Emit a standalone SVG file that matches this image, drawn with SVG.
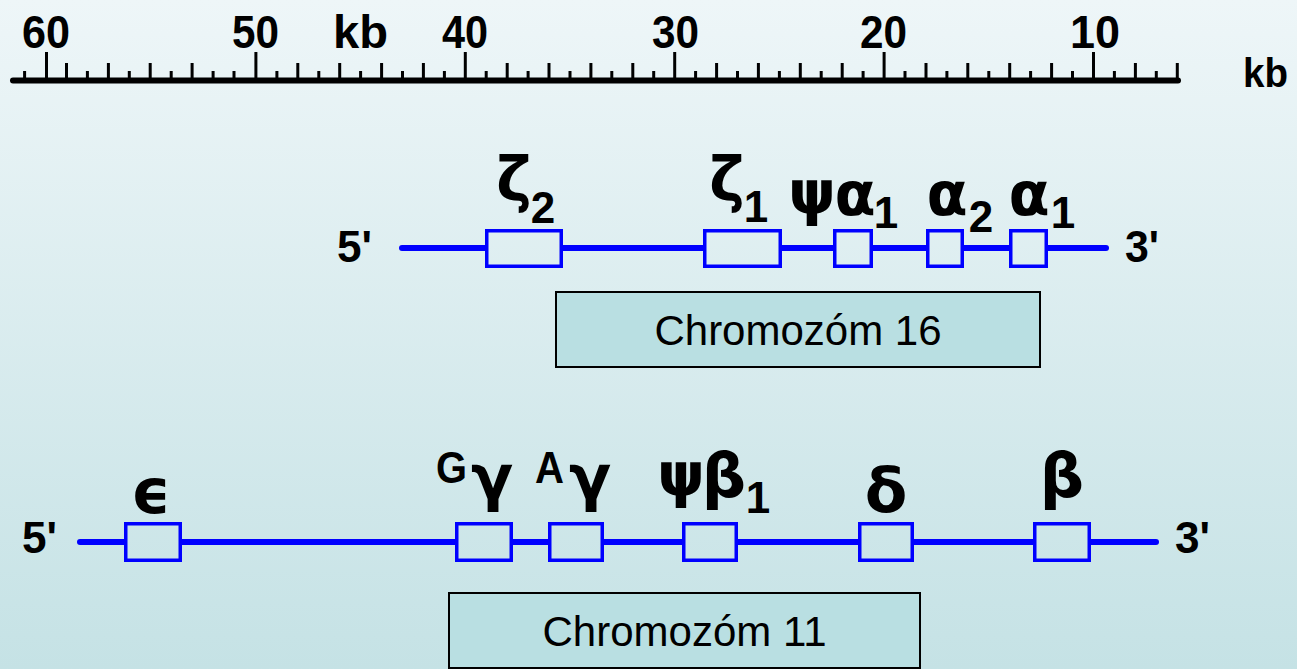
<svg xmlns="http://www.w3.org/2000/svg" width="1297" height="669" viewBox="0 0 1297 669">
<defs>
<linearGradient id="bg" gradientUnits="userSpaceOnUse" x1="0" y1="0" x2="0" y2="669">
<stop offset="0" stop-color="#eef6f8"/>
<stop offset="1" stop-color="#c5e2e5"/>
</linearGradient>
</defs>
<style>
.num{font-family:"Liberation Sans",Arial,sans-serif;font-weight:bold;font-size:46px;fill:#000}
.end{font-family:"Liberation Sans",Arial,sans-serif;font-weight:bold;font-size:44px;fill:#000}
.gr{font-family:"DejaVu Sans",sans-serif;font-weight:bold;font-size:60px;fill:#000;text-anchor:middle}
.gr2{font-family:"DejaVu Sans",sans-serif;font-weight:bold;font-size:62px;fill:#000;text-anchor:middle}
.sub{font-family:"Liberation Sans",Arial,sans-serif;font-weight:bold;font-size:44px;fill:#000;text-anchor:middle}
.sup{font-family:"Liberation Sans",Arial,sans-serif;font-weight:bold;font-size:44px;fill:#000;text-anchor:start}
.gene{fill:url(#bg);stroke:#0000ff;stroke-width:3.5}
.chr{stroke:#0000ff;stroke-width:6;stroke-linecap:round;fill:none}
.lbl{fill:#b9dfe2;stroke:#000;stroke-width:2}
.lt{font-family:"Liberation Sans",Arial,sans-serif;font-size:42px;fill:#000;text-anchor:middle}
.tk{fill:#000}
</style>
<rect x="0" y="0" width="1297" height="669" fill="url(#bg)"/>

<g id="scale">
<rect x="10" y="77.5" width="1171" height="6" rx="3" class="tk"/>
<g class="tk">
<rect x="45" y="52" width="3" height="26"/>
<rect x="254.4" y="52" width="3" height="26"/>
<rect x="463.8" y="52" width="3" height="26"/>
<rect x="673.2" y="52" width="3" height="26"/>
<rect x="882.6" y="52" width="3" height="26"/>
<rect x="1092" y="52" width="3" height="26"/>
</g>
<path id="minor" d="M24.6 78v-7M66.5 78v-15M87.4 78v-7M108.4 78v-15M129.3 78v-7M150.2 78v-15M171.2 78v-7M192.1 78v-15M213.1 78v-7M234 78v-7M276.9 78v-7M297.8 78v-15M318.8 78v-7M339.7 78v-15M360.6 78v-7M381.6 78v-15M402.5 78v-7M423.4 78v-15M444.4 78v-7M486.2 78v-7M507.2 78v-15M528.1 78v-7M549 78v-15M570 78v-7M590.9 78v-15M611.8 78v-7M632.8 78v-15M653.7 78v-7M695.6 78v-7M716.6 78v-15M737.5 78v-7M758.4 78v-15M779.4 78v-7M800.3 78v-15M821.2 78v-7M842.2 78v-15M863.1 78v-7M905 78v-7M926 78v-15M946.9 78v-7M967.8 78v-15M988.8 78v-7M1009.7 78v-15M1030.6 78v-7M1051.6 78v-15M1072.5 78v-7M1114.4 78v-7M1135.4 78v-15M1156.3 78v-7M1177.3 78v-15" stroke="#000" stroke-width="3" fill="none"/>
<text class="num" x="22" y="48" textLength="48" lengthAdjust="spacingAndGlyphs">60</text>
<text class="num" x="232" y="48" textLength="47" lengthAdjust="spacingAndGlyphs">50</text>
<text class="num" x="333" y="48" textLength="55" lengthAdjust="spacingAndGlyphs">kb</text>
<text class="num" x="442" y="48" textLength="46" lengthAdjust="spacingAndGlyphs">40</text>
<text class="num" x="652" y="48" textLength="47" lengthAdjust="spacingAndGlyphs">30</text>
<text class="num" x="860" y="48" textLength="47" lengthAdjust="spacingAndGlyphs">20</text>
<text class="num" x="1070" y="48" textLength="50" lengthAdjust="spacingAndGlyphs">10</text>
<text x="1243" y="87" font-family="Liberation Sans, Arial, sans-serif" font-weight="bold" font-size="41" textLength="45" lengthAdjust="spacingAndGlyphs">kb</text>
</g>

<g id="connectors">
<line class="chr" x1="402" y1="248" x2="1106" y2="248"/>
<line class="chr" x1="80" y1="542" x2="1156" y2="542"/>
</g>

<g id="chr16">
<text class="end" x="337" y="262" textLength="35" lengthAdjust="spacingAndGlyphs">5'</text>
<text class="end" x="1125" y="262" textLength="34" lengthAdjust="spacingAndGlyphs">3'</text>
<g id="zeta2"><rect class="gene" x="486.75" y="230.75" width="74.5" height="35.5"/><text class="gr" x="514" y="200">ζ</text><text class="sub" x="543" y="223">2</text></g>
<g id="zeta1"><rect class="gene" x="704.75" y="230.75" width="75.5" height="35.5"/><text class="gr" x="727" y="200">ζ</text><text class="sub" x="756" y="222">1</text></g>
<g id="psialpha1"><rect class="gene" x="834.75" y="230.75" width="36.5" height="35.5"/><text class="gr" x="812" y="213">ψ</text><text class="gr" x="855" y="215">α</text><text class="sub" x="886" y="228">1</text></g>
<g id="alpha2"><rect class="gene" x="927.75" y="230.75" width="34.5" height="35.5"/><text class="gr" x="947" y="215">α</text><text class="sub" x="981" y="232">2</text></g>
<g id="alpha1"><rect class="gene" x="1010.75" y="230.75" width="35.5" height="35.5"/><text class="gr" x="1029" y="215">α</text><text class="sub" x="1063" y="228">1</text></g>
</g>

<g id="label16"><rect class="lbl" x="556" y="292" width="484" height="75"/><text class="lt" x="798" y="345">Chromozóm 16</text></g>

<g id="chr11">
<text class="end" x="22" y="553" textLength="35" lengthAdjust="spacingAndGlyphs">5'</text>
<text class="end" x="1175" y="553" textLength="35" lengthAdjust="spacingAndGlyphs">3'</text>
<g id="epsilon"><rect class="gene" x="125.75" y="523.75" width="54.5" height="36.5"/><text class="gr2" x="151" y="513">ϵ</text></g>
<g id="Ggamma"><rect class="gene" x="456.75" y="523.75" width="54.5" height="36.5"/><text class="sup" x="436" y="483" textLength="31" lengthAdjust="spacingAndGlyphs">G</text><text class="gr2" x="492" y="499">γ</text></g>
<g id="Agamma"><rect class="gene" x="549.75" y="523.75" width="52.5" height="36.5"/><text class="sup" x="535" y="483" textLength="29" lengthAdjust="spacingAndGlyphs">A</text><text class="gr2" x="590" y="499">γ</text></g>
<g id="psibeta1"><rect class="gene" x="683.75" y="523.75" width="52.5" height="36.5"/><text class="gr" x="681" y="495" font-size="56">ψ</text><text class="gr2" x="724" y="497">β</text><text class="sub" x="758" y="513">1</text></g>
<g id="delta"><rect class="gene" x="859.75" y="523.75" width="52.5" height="36.5"/><text class="gr2" x="886" y="512">δ</text></g>
<g id="beta"><rect class="gene" x="1034.75" y="523.75" width="54.5" height="36.5"/><text class="gr2" x="1062" y="497">β</text></g>
</g>

<g id="label11"><rect class="lbl" x="449" y="593" width="471" height="75"/><text class="lt" x="684.5" y="646">Chromozóm 11</text></g>
</svg>
